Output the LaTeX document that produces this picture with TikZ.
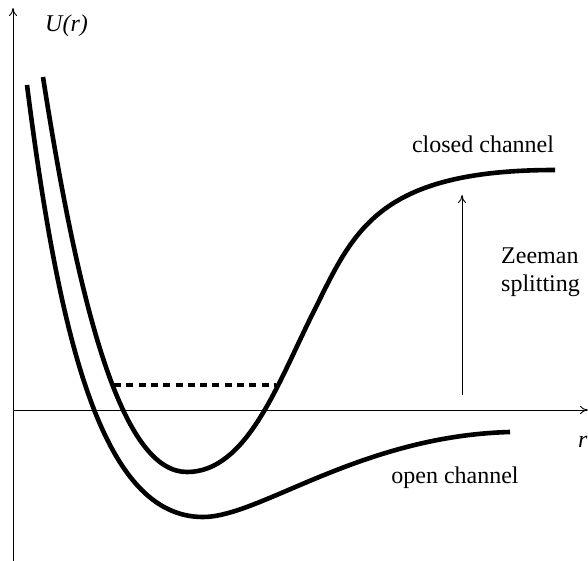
\documentclass[tikz,border=0pt]{standalone}
\usepackage{fontspec}
\setmainfont{Liberation Serif}
\usetikzlibrary{arrows.meta}
\begin{document}
\begin{tikzpicture}[x=1pt,y=-1pt,
  axis/.style={line width=0.9pt,-{To[length=8pt,width=8pt]}},
  curve/.style={line width=4.6pt},
  level/.style={line width=4.6pt,dash pattern=on 7pt off 5.3pt},
  lbl/.style={font=\fontsize{24}{28}\selectfont,inner sep=0pt},
  splitarrow/.style={line width=0.9pt,-{To[length=8pt,width=8pt]}}]
\useasboundingbox (0,0) rectangle (588,561);
% axes
\coordinate (o) at (13,410);
\coordinate (ybot) at (13,561);
\coordinate (ytop) at (13,8);
\coordinate (xend) at (588,410);
\draw[axis] (ybot) -- (ytop);
\draw[axis] (o) -- (xend);
\node[lbl,anchor=base west] (ulabel) at (45,32) {\textit{U(r)}};
\node[lbl,anchor=base west] (rlabel) at (578,447) {\textit{r}};
% open channel (outer curve)
\coordinate (oa) at (27,85);
\coordinate (omin) at (203,517);
\coordinate (oe) at (510,432);
\draw[curve] (oa) .. controls (60,345) and (103,517) .. (omin)
  .. controls (260,517) and (360,436) .. (oe);
% closed channel (inner curve)
\coordinate (ca) at (43,77);
\coordinate (cmin) at (187,472);
\coordinate (ci) at (313,313);
\coordinate (ce) at (555,170);
\draw[curve] (ca) .. controls (82,327) and (125,472) .. (cmin)
  .. controls (247,472) and (278,383) .. (ci)
  .. controls (353,233) and (375,170) .. (ce);
% bound state level
\coordinate (dl) at (114,385);
\coordinate (dr) at (276,385);
\draw[level] (dl) -- (dr);
% Zeeman splitting arrow
\coordinate (zb) at (462,395);
\coordinate (zt) at (462,195);
\draw[splitarrow] (zb) -- (zt);
\node[lbl,anchor=base] (closed) at (483,153) {closed channel};
\node[lbl,anchor=base] (open) at (455,483) {open channel};
\node[lbl,anchor=base west] (zee) at (501,263) {Zeeman};
\node[lbl,anchor=base west] (spl) at (501,291.5) {splitting};
\end{tikzpicture}
\end{document}
